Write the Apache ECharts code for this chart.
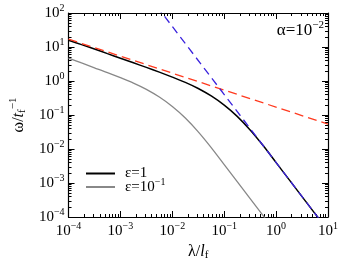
<!DOCTYPE html>
<html><head><meta charset="utf-8">
<script src="https://cdn.jsdelivr.net/npm/echarts@6/dist/echarts.min.js"></script>
<style>html,body{margin:0;padding:0;background:#fff}#c{width:346px;height:266px}</style>
</head><body><div id="c"></div>
<script>
// ---- data ----
const xTicks = [1e-4, 1e-3, 1e-2, 1e-1, 1, 10];
const yTicks = [1e-4, 1e-3, 1e-2, 1e-1, 1, 10, 100];

const lambdaBlack = [1e-4, 1.78e-4, 3.16e-4, 5.62e-4, 1e-3, 1.78e-3, 3.16e-3, 5.62e-3, 0.01, 0.0178, 0.0316,
                     0.0562, 0.1, 0.178, 0.316, 0.562, 1, 1.78, 3.16, 5.62, 10];
const omegaBlack  = [15.85, 11.75, 8.71, 6.38, 4.68, 3.43, 2.51, 1.82, 1.30, 0.912, 0.603,
                     0.363, 0.195, 0.0912, 0.0363, 0.0126, 0.00398, 0.00126, 3.98e-4, 1.26e-4, 3.98e-5];

const lambdaGray = [1e-4, 1.78e-4, 3.16e-4, 5.62e-4, 1e-3, 1.78e-3, 3.16e-3, 5.62e-3, 0.01, 0.0178, 0.0316,
                    0.0562, 0.1, 0.178, 0.316, 0.562, 1];
const omegaGray  = [4.73, 3.39, 2.45, 1.77, 1.25, 0.867, 0.568, 0.337, 0.178, 0.0817, 0.0320,
                    0.0110, 0.00347, 0.00110, 3.47e-4, 1.10e-4, 3.47e-5];

const lambdaRed = [1e-4, 10];
const omegaRed  = [17, 0.054];

const lambdaBlue = [0.005, 10];
const omegaBlue  = [160, 4e-5];

// ---- helpers ----
const pairs = (xs, ys) => xs.map((x, i) => [x, ys[i]]);
function minorValues(lo, hi) {
  const out = [];
  for (let e = lo; e < hi; e++) for (let m = 2; m <= 9; m++) out.push(m * Math.pow(10, e));
  return out;
}
const xMinor = minorValues(-4, 1);
const yMinor = minorValues(-4, 2);
const FONT = 'Liberation Serif';
const powLabel = v => {
  const e = Math.round(Math.log10(v));
  return '{b|10}{s|' + (e < 0 ? '\u2212' + (-e) : e) + '}';
};
const labelRich = {
  b: {fontFamily: FONT, fontSize: 15, color: '#000'},
  s: {fontFamily: FONT, fontSize: 10, color: '#000', padding: [0, 0, 10, 0]}
};

function mkX(pos, major, showLabel, name) {
  const o = {
    type: 'log', logBase: 10, min: 1e-4, max: 10, position: pos,
    axisLine: {show: major, onZero: false, lineStyle: {color: '#000', width: 1.2}},
    axisTick: {show: true, inside: true, length: major ? 6 : 3, lineStyle: {color: '#000', width: 1},
               customValues: major ? xTicks : xMinor},
    minorTick: {show: false},
    splitLine: {show: false},
    axisLabel: {show: showLabel, customValues: xTicks, margin: 4, formatter: powLabel, rich: labelRich}
  };
  if (name) {
    o.name = name; o.nameLocation = 'middle'; o.nameGap = 24;
    o.nameTextStyle = {rich: {
      a: {fontFamily: FONT, fontSize: 16, color: '#000'},
      it: {fontFamily: FONT, fontSize: 16, fontStyle: 'italic', color: '#000'},
      sub: {fontFamily: FONT, fontSize: 11, color: '#000', padding: [8, 0, 0, 0]}
    }};
  }
  return o;
}
function mkY(pos, major, showLabel, name) {
  const o = {
    type: 'log', logBase: 10, min: 1e-4, max: 100, position: pos,
    axisLine: {show: major, onZero: false, lineStyle: {color: '#000', width: 1.2}},
    axisTick: {show: true, inside: true, length: major ? 6 : 3, lineStyle: {color: '#000', width: 1},
               customValues: major ? yTicks : yMinor},
    minorTick: {show: false},
    splitLine: {show: false},
    axisLabel: {show: showLabel, customValues: yTicks, margin: 4, formatter: powLabel, rich: labelRich}
  };
  if (name) {
    o.name = name; o.nameLocation = 'middle'; o.nameGap = 36; o.nameRotate = 90;
    o.nameTextStyle = {rich: {
      a: {fontFamily: FONT, fontSize: 16, color: '#000'},
      it: {fontFamily: FONT, fontSize: 16, fontStyle: 'italic', color: '#000'},
      sub: {fontFamily: FONT, fontSize: 11, color: '#000', padding: [8, 0, 0, 0]},
      sup: {fontFamily: FONT, fontSize: 11, color: '#000', padding: [0, 0, 10, 0]}
    }};
  }
  return o;
}

const chart = echarts.init(document.getElementById('c'), null, {renderer: 'canvas'});
chart.setOption({
  animation: false,
  backgroundColor: '#fff',
  grid: {left: 62, right: 18, top: 13, bottom: 49, containLabel: false},
  xAxis: [
    mkX('bottom', true, true, '{a|\u03bb/}{it|l}{sub|f}'),
    mkX('bottom', false, false),
    mkX('top', true, false),
    mkX('top', false, false)
  ],
  yAxis: [
    mkY('left', true, true, '{a|\u03c9/}{it|t}{sub|f}{sup|\u22121}'),
    mkY('left', false, false),
    mkY('right', true, false),
    mkY('right', false, false)
  ],
  legend: {
    orient: 'vertical', left: 86, top: 166, padding: 0, itemWidth: 29, itemHeight: 2, itemGap: -4,
    icon: 'rect',
    data: ['\u03b5=1', '\u03b5=10\u22121'],
    formatter: n => n === '\u03b5=1' ? '{a|\u03b5=1}' : '{a|\u03b5=10}{s|\u22121}',
    textStyle: {rich: {
      a: {fontFamily: FONT, fontSize: 15, color: '#000', padding: [0, 0, 0, 5]},
      s: {fontFamily: FONT, fontSize: 10, color: '#000', padding: [0, 0, 10, 0]}
    }}
  },
  graphic: [{
    type: 'text', z: 100,
    style: {
      text: '{a|\u03b1=10}{s|\u22122}', x: 324, y: 31, align: 'right', verticalAlign: 'middle',
      rich: {
        a: {fontFamily: FONT, fontSize: 17, color: '#000'},
        s: {fontFamily: FONT, fontSize: 11, color: '#000', padding: [0, 0, 11, 0]}
      }
    }
  }],
  series: [
    {name: '\u03b5=1', type: 'line', data: pairs(lambdaBlack, omegaBlack), smooth: 0.3, symbol: 'none',
     lineStyle: {color: '#000', width: 1.5}, itemStyle: {color: '#000'}, z: 3, clip: true},
    {name: '\u03b5=10\u22121', type: 'line', data: pairs(lambdaGray, omegaGray), smooth: 0.3, symbol: 'none',
     lineStyle: {color: '#888', width: 1.3}, itemStyle: {color: '#888'}, z: 2, clip: true},
    {name: 'red', type: 'line', data: pairs(lambdaRed, omegaRed), symbol: 'none',
     lineStyle: {color: '#ff3a1f', width: 1.3, type: [9, 5]}, z: 4, clip: true},
    {name: 'blue', type: 'line', data: pairs(lambdaBlue, omegaBlue), symbol: 'none',
     lineStyle: {color: '#3a22dd', width: 1.3, type: [8, 5]}, z: 5, clip: true}
  ]
});
</script></body></html>
